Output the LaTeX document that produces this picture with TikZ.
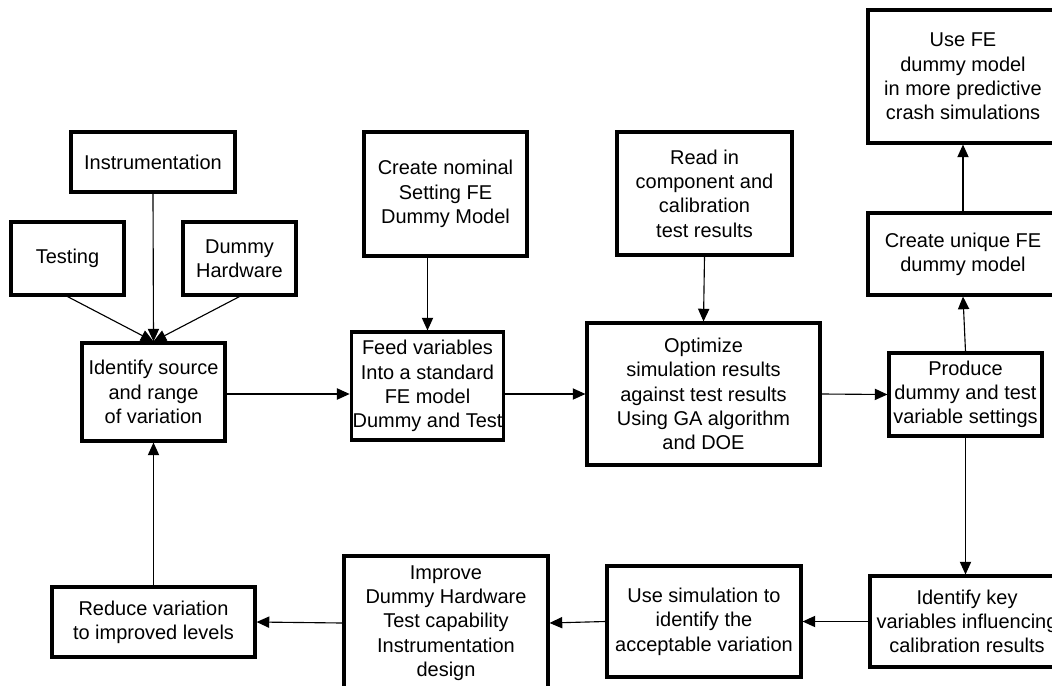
\documentclass[tikz,border=0pt]{standalone}
\usepackage{fontspec}
\setmainfont{Liberation Sans}
\usetikzlibrary{arrows.meta}
\begin{document}
\begin{tikzpicture}[x=0.025cm, y=-0.025cm,
		>={Triangle[length=9pt,width=8pt]},
		box/.style={draw, line width=2.2pt, fill=white, align=center, inner sep=1pt,
			font=\fontsize{14.2}{17.3}\selectfont},
		link/.style={line width=0.8pt}]
	\useasboundingbox (0,0) rectangle (1052,685);
	\clip (0,0) rectangle (1052,685);
	\node [box, minimum width=4.1cm, minimum height=1.5cm] (instr) at (153,162) {Instrumentation};
	\node [box, minimum width=2.825cm, minimum height=1.825cm] (testing) at (67.5,258.5) {Testing};
	\node [box, minimum width=2.825cm, minimum height=1.825cm] (hardware) at (239.5,258.5) {Dummy\\Hardware};
	\node [box, minimum width=3.575cm, minimum height=2.45cm] (source) at (153.5,392) {Identify source\\and range\\of variation};
	\node [box, minimum width=4.075cm, minimum height=3.1cm] (nominal) at (445.5,194) {Create nominal\\Setting FE\\Dummy Model};
	\node [box, minimum width=3.625cm, minimum height=2.7cm] (feed) at (427.5,386) {Feed variables\\Into a standard\\FE model\\Dummy and Test};
	\node [box, minimum width=4.375cm, minimum height=3.075cm] (readin) at (704.5,193.5) {Read in\\component and\\calibration\\test results};
	\node [box, minimum width=5.825cm, minimum height=3.55cm] (optimize) at (703.5,394) {Optimize\\simulation results\\against test results\\Using GA algorithm\\and DOE};
	\node [box, minimum width=3.825cm, minimum height=2.075cm] (produce) at (965.5,394.5) {Produce\\dummy and test\\variable settings};
	\node [box, minimum width=4.75cm, minimum height=2.05cm] (unique) at (963,254) {Create unique FE\\dummy model};
	\node [box, minimum width=4.75cm, minimum height=3.325cm] (usefe) at (963,76.5) {Use FE\\dummy model\\in more predictive\\crash simulations};
	\node [box, minimum width=4.85cm, minimum height=2.275cm] (keyvars) at (967,621.5) {Identify key\\variables influencing\\calibration results};
	\node [box, minimum width=4.85cm, minimum height=2.775cm] (usesim) at (704,621.5) {Use simulation to\\identify the\\acceptable variation};
	\node [box, minimum width=5.1cm, minimum height=3.35cm] (improve) at (446,623) {Improve\\Dummy Hardware\\Test capability\\Instrumentation\\design};
	\node [box, minimum width=5.075cm, minimum height=1.75cm] (reduce) at (153.5,622) {Reduce variation\\to improved levels};
	\draw [link, ->] (testing.south) -- (source.north);
	\draw [link, ->] (hardware.south) -- (source.north);
	\draw [link, ->] (instr.south) -- (source.north);
	\draw [link, ->] (optimize.west -| source.east) -- (optimize.west -| feed.west);
	\draw [link, ->] (nominal.south -| feed.north) -- (feed.north);
	\draw [link, ->] (optimize.west -| feed.east) -- (optimize.west);
	\draw [link, ->] (readin.south) -- (optimize.north);
	\draw [link, ->] (optimize.east) -- (produce.west);
	\draw [link, ->] (produce.north) -- (unique.south);
	\draw [link, ->] (unique.north) -- (usefe.south);
	\draw [link, ->] (produce.south) -- (produce.south |- keyvars.north);
	\draw [link, ->] (keyvars.west) -- (usesim.east);
	\draw [link, ->] (usesim.west) -- (improve.east);
	\draw [link, ->] (improve.west) -- (reduce.east);
	\draw [link, ->] (reduce.north) -- (source.south);
\end{tikzpicture}
\end{document}
